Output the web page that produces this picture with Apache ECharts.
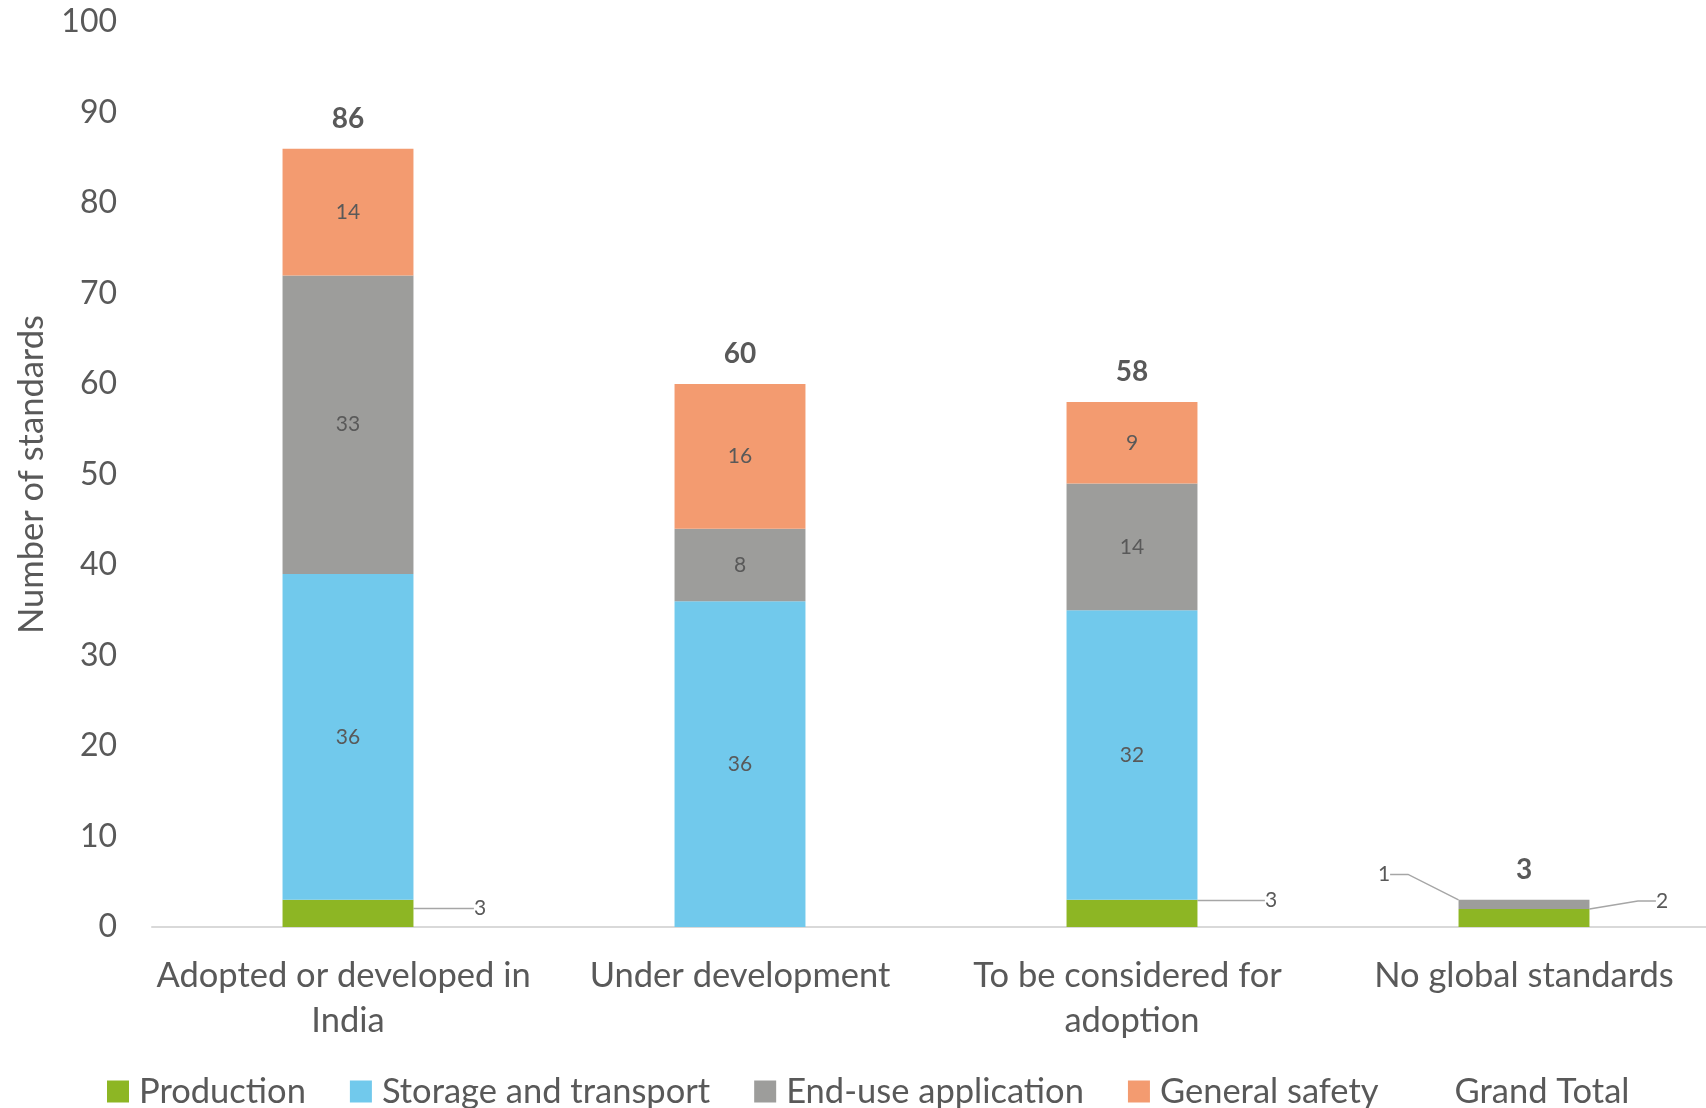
<!DOCTYPE html>
<html>
<head>
<meta charset="utf-8">
<script src="https://cdn.jsdelivr.net/npm/echarts@6/dist/echarts.min.js"></script>
<style>
html,body{margin:0;padding:0;background:#fff;}
#chart{width:1706px;height:1108px;}
</style>
</head>
<body>
<div id="chart"></div>
<script>
const categories = ['Adopted or developed in India', 'Under development', 'To be considered for adoption', 'No global standards'];
const production = [3, null, 3, 2];
const storage = [36, 36, 32, null];
const endUse = [33, 8, 14, 1];
const safety = [14, 16, 9, null];
const grandTotal = [86, 60, 58, 3];
const yTicks = [0, 10, 20, 30, 40, 50, 60, 70, 80, 90, 100];

const FONT = 'Lato';
const TXT = '#595959';
const colors = {
  production: '#8DB624',
  storage: '#71C9EC',
  endUse: '#9D9D9B',
  safety: '#F39B70'
};

// label offsets (px) for the small segments that carry a leader line
const labelMoves = {
  production: {0: [132, -5], 2: [139, -13], 3: [138, -17]},
  endUse: {3: [-140, -30]}
};

function segData(arr, key) {
  const moves = labelMoves[key] || {};
  return arr.map((v, i) => {
    if (moves[i]) {
      return {value: v, labelLine: {show: true}};
    }
    return v;
  });
}

function makeLayout(key) {
  const moves = labelMoves[key] || {};
  return function (p) {
    const m = moves[p.dataIndex];
    if (m) return {dx: m[0], dy: m[1]};
    return {};
  };
}

const segLabel = {
  show: true,
  position: 'inside',
  fontFamily: FONT,
  fontSize: 21,
  color: TXT
};

function barSeries(name, arr, key) {
  return {
    name: name,
    type: 'bar',
    stack: 'total',
    barWidth: '33.4%',
    data: segData(arr, key),
    itemStyle: {color: colors[key]},
    label: segLabel,
    labelLayout: makeLayout(key),
    labelLine: {
      show: false,
      length2: 18,
      smooth: false,
      lineStyle: {color: '#A6A6A6', width: 1.5}
    },
    emphasis: {disabled: true}
  };
}

const chart = echarts.init(document.getElementById('chart'));
chart.setOption({
  animation: false,
  backgroundColor: '#fff',
  textStyle: {fontFamily: FONT},
  grid: {left: 152, top: 22, bottom: 181, width: 1568, outerBoundsMode: 'none'},
  legend: {
    left: 102,
    top: 1069,
    itemWidth: 22,
    itemHeight: 22,
    itemGap: 44,
    textStyle: {fontFamily: FONT, fontSize: 34.5, color: TXT, padding: [0, 0, 0, 5]},
    data: [
      {name: 'Production', icon: 'rect'},
      {name: 'Storage and transport', icon: 'rect'},
      {name: 'End-use application', icon: 'rect'},
      {name: 'General safety', icon: 'rect'},
      {name: 'Grand Total', icon: 'rect', itemStyle: {opacity: 0}}
    ]
  },
  xAxis: {
    type: 'category',
    data: categories,
    axisLine: {lineStyle: {color: '#D9D9D9', width: 2}},
    axisTick: {show: false},
    axisLabel: {
      interval: 0,
      fontFamily: FONT,
      fontSize: 34.5,
      lineHeight: 45,
      color: TXT,
      margin: 26,
      width: 385,
      overflow: 'break'
    }
  },
  yAxis: {
    type: 'value',
    min: yTicks[0],
    max: yTicks[yTicks.length - 1],
    interval: yTicks[1] - yTicks[0],
    name: 'Number of standards',
    nameLocation: 'middle',
    nameGap: 103,
    nameTextStyle: {fontFamily: FONT, fontSize: 34.5, color: TXT},
    axisLine: {show: false},
    axisTick: {show: false},
    splitLine: {show: false},
    axisLabel: {fontFamily: FONT, fontSize: 32, color: TXT, margin: 35}
  },
  series: [
    barSeries('Production', production, 'production'),
    barSeries('Storage and transport', storage, 'storage'),
    barSeries('End-use application', endUse, 'endUse'),
    barSeries('General safety', safety, 'safety'),
    {
      name: 'Grand Total',
      type: 'line',
      data: grandTotal,
      symbol: 'circle',
      symbolSize: 2,
      showSymbol: true,
      itemStyle: {color: 'rgba(0,0,0,0)'},
      lineStyle: {width: 0, color: 'rgba(0,0,0,0)'},
      label: {
        show: true,
        position: 'top',
        distance: 15,
        fontFamily: FONT,
        fontSize: 28,
        fontWeight: 'bold',
        color: TXT
      },
      emphasis: {disabled: true}
    }
  ]
});
</script>
</body>
</html>
